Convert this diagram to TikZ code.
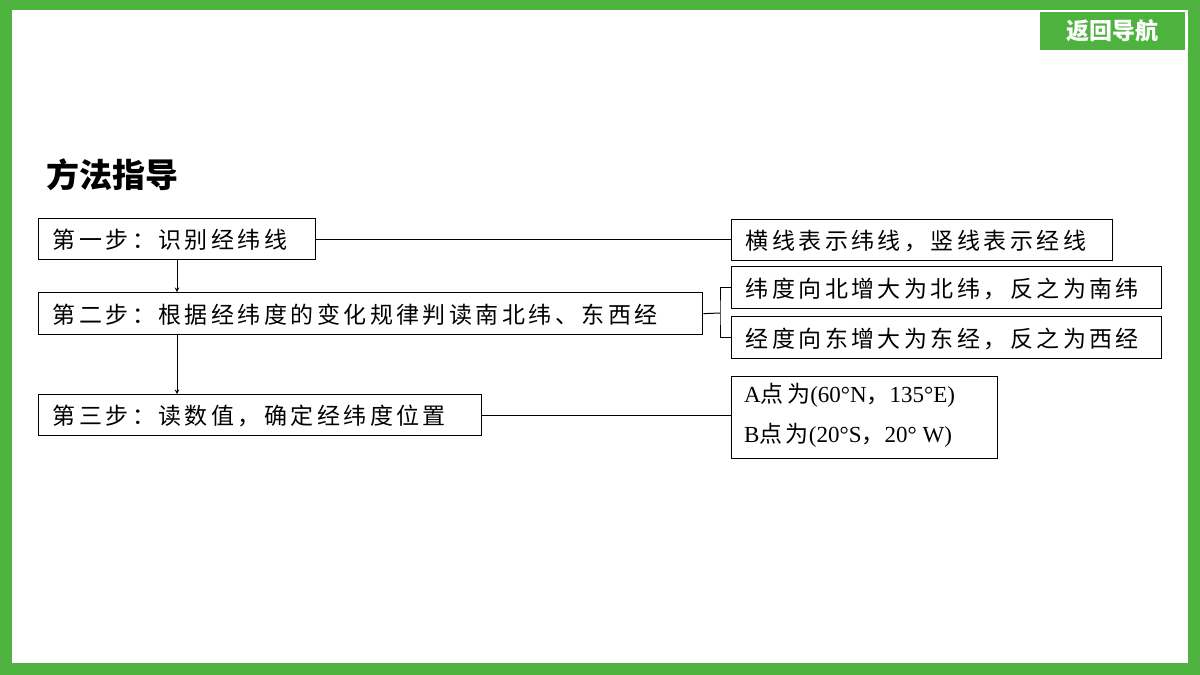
\documentclass[tikz,border=0pt]{standalone}
\usepackage{fontspec}
\setmainfont{Liberation Serif}
\newfontfamily\cjk[LetterSpace=15]{Noto Sans CJK SC}
\newfontfamily\cjkb{Noto Sans CJK SC}
\definecolor{grn}{RGB}{77,178,62}
\tikzset{bx/.style={draw,line width=1.3pt,anchor=north west,inner sep=0pt,inner xsep=14pt,text depth=0pt,align=left,font=\cjk\fontsize{23}{26}\selectfont},
ln/.style={line width=1pt},
lt/.style={anchor=west,inner sep=0pt,font=\fontsize{23}{26}\selectfont}}
\begin{document}
\begin{tikzpicture}[x=1pt,y=-1pt]
\useasboundingbox (0,0) rectangle (1200,675);
\fill[grn] (0,0) rectangle (1200,675);
\fill[white] (12,10) rectangle (1188,663);
\fill[grn] (1040,12) rectangle (1185,50);
\node[text=white,font=\cjkb\bfseries\fontsize{23}{26}\selectfont] (nav) at (1112,31) {返回导航};
\node[anchor=west,inner sep=0pt,font=\cjkb\bfseries\fontsize{33}{36}\selectfont] (title) at (46,175) {方法指导};
\node[bx,text width=249,minimum height=41] (b1) at (38,218) {第一步：识别经纬线};
\node[bx,text width=636,minimum height=42] (b2) at (38,292) {第二步：根据经纬度的变化规律判读南北纬、东西经};
\node[bx,text width=415,minimum height=41] (b3) at (38,394) {第三步：读数值，确定经纬度位置};
\node[bx,text width=353,minimum height=41] (r1) at (731,219) {横线表示纬线，竖线表示经线};
\node[bx,text width=402,minimum height=42] (r2) at (731,266) {纬度向北增大为北纬，反之为南纬};
\node[bx,text width=402,minimum height=42] (r3) at (731,316) {经度向东增大为东经，反之为西经};
\node[bx,text width=238,minimum height=82] (r4) at (731,376) {};
\node[lt] (t1) at (744,395) {A{\cjk 点为}(60°N{\cjk ，}135°E)};
\node[lt] (t2) at (744,435) {B{\cjk 点为}(20°S{\cjk ，}20° W)};
\draw[ln,-stealth] (b1.south -| 177,0) -- (b2.north -| 177,0);
\draw[ln,-stealth] (b2.south -| 177,0) -- (b3.north -| 177,0);
\draw[ln] (b1.east) -- (r1.west |- b1.east);
\draw[ln] (b3.east) -- (r4.west |- b3.east);
\coordinate (j) at (720,313);
\draw[ln] (b2.east) -- (j);
\draw[ln] (r2.west) -| (j) |- (r3.west);
\end{tikzpicture}
\end{document}
